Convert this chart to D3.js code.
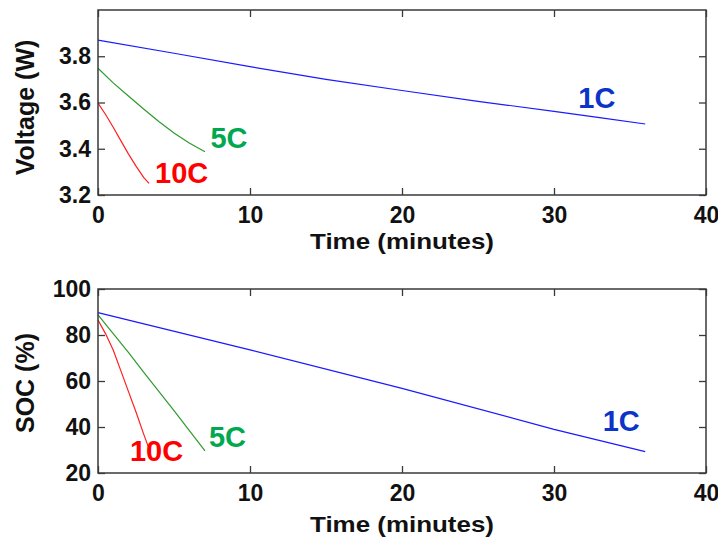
<!DOCTYPE html>
<html>
<head>
<meta charset="utf-8">
<script src="https://cdn.jsdelivr.net/npm/d3@7"></script>
<style>
  body { margin: 0; background: #fff; }
  svg text { font-family: "Liberation Sans", Arial, sans-serif; font-weight: bold; }
  .tick text { font-size: 23px; fill: #111; }
</style>
</head>
<body>
<svg id="chart" width="718" height="539"></svg>
<script>
// time axis ticks (minutes)
var timeTicks = [0, 10, 20, 30, 40];

// voltage panel
var voltTicks = [3.2, 3.4, 3.6, 3.8];
var tV1C = [0, 5, 10, 15, 20, 25, 30, 33, 36];
var volt1C = [3.87, 3.813, 3.755, 3.70, 3.652, 3.605, 3.562, 3.535, 3.507];
var tV5C = [0, 1, 2, 3, 4, 5, 6, 7.04];
var volt5C = [3.748, 3.685, 3.628, 3.572, 3.518, 3.468, 3.425, 3.387];
var tV10C = [0, 0.5, 1, 1.5, 2, 2.5, 3, 3.36];
var volt10C = [3.597, 3.548, 3.493, 3.435, 3.378, 3.325, 3.276, 3.25];

// state of charge panel
var socTicks = [20, 40, 60, 80, 100];
var tS1C = [0, 10, 20, 30, 36];
var soc1C = [89.7, 73.5, 56.8, 39.0, 29.3];
var tS5C = [0, 1, 2, 3, 4, 5, 6, 7.04];
var soc5C = [88.7, 80.6, 72.4, 63.9, 55.5, 47.1, 38.5, 29.6];
var tS10C = [0, 0.5, 1, 1.5, 2, 2.5, 3, 3.36];
var soc10C = [86.5, 80.5, 73.5, 64.5, 55.5, 46.5, 37, 30.5];

var rates = ["1C", "5C", "10C"];
var lineColors = {"1C": "#1a1aff", "5C": "#2e9a2e", "10C": "#ff2020"};
var labelColors = {"1C": "#0a35c8", "5C": "#00a84f", "10C": "#ff0000"};

function zip(t, v) { return t.map(function (d, i) { return [d, v[i]]; }); }

var panels = [
  {
    top: 10, bottom: 195, domain: [3.2, 4.0], ticks: voltTicks,
    title: "Voltage (W)", fmt: d3.format(".1f"), titleDy: 5, xTitleOff: 54,
    series: {"1C": zip(tV1C, volt1C), "5C": zip(tV5C, volt5C), "10C": zip(tV10C, volt10C)},
    labels: {"1C": [31.6, 3.575], "5C": [7.4, 3.404], "10C": [3.75, 3.254]}
  },
  {
    top: 289, bottom: 473, domain: [20, 100], ticks: socTicks,
    title: "SOC (%)", fmt: d3.format("d"), titleDy: 2, xTitleOff: 59,
    series: {"1C": zip(tS1C, soc1C), "5C": zip(tS5C, soc5C), "10C": zip(tS10C, soc10C)},
    labels: {"1C": [33.2, 38.2], "5C": [7.3, 31.3], "10C": [2.1, 25.2]}
  }
];

var svg = d3.select("#chart");
var left = 98, right = 706, tk = 7;

var x = d3.scaleLinear().domain([0, 40]).range([left, right]);

panels.forEach(function (p) {
  var y = d3.scaleLinear().domain(p.domain).range([p.bottom, p.top]);
  var g = svg.append("g");

  var line = d3.line()
    .x(function (d) { return x(d[0]); })
    .y(function (d) { return y(d[1]); });

  rates.forEach(function (r) {
    g.append("path")
      .datum(p.series[r])
      .attr("fill", "none")
      .attr("stroke", lineColors[r])
      .attr("stroke-width", 1.2)
      .attr("d", line);
  });

  // frame
  g.append("rect")
    .attr("x", left).attr("y", p.top)
    .attr("width", right - left).attr("height", p.bottom - p.top)
    .attr("fill", "none").attr("stroke", "#3a3a3a").attr("stroke-width", 1.5);

  var ax = [
    g.append("g").attr("transform", "translate(0," + p.bottom + ")")
      .call(d3.axisBottom(x).tickValues(timeTicks).tickSize(-tk).tickPadding(12)),
    g.append("g").attr("transform", "translate(0," + p.top + ")")
      .call(d3.axisTop(x).tickValues(timeTicks).tickSize(-tk).tickFormat("")),
    g.append("g").attr("transform", "translate(" + left + ",0)")
      .call(d3.axisLeft(y).tickValues(p.ticks).tickSize(-tk).tickPadding(7).tickFormat(p.fmt)),
    g.append("g").attr("transform", "translate(" + right + ",0)")
      .call(d3.axisRight(y).tickValues(p.ticks).tickSize(-tk).tickFormat(""))
  ];
  ax.forEach(function (a) {
    a.select(".domain").remove();
    a.selectAll(".tick line").attr("stroke", "#3a3a3a").attr("stroke-width", 1.3);
  });

  // x title
  g.append("text")
    .attr("x", (left + right) / 2)
    .attr("y", p.bottom + p.xTitleOff)
    .attr("text-anchor", "middle")
    .attr("font-size", 22)
    .attr("textLength", 184)
    .attr("lengthAdjust", "spacingAndGlyphs")
    .attr("fill", "#111")
    .text("Time (minutes)");

  // y title
  g.append("text")
    .attr("transform", "translate(34," + ((p.top + p.bottom) / 2 + p.titleDy) + ") rotate(-90)")
    .attr("text-anchor", "middle")
    .attr("font-size", 25)
    .attr("fill", "#111")
    .text(p.title);

  // rate labels
  rates.forEach(function (r) {
    g.append("text")
      .attr("x", x(p.labels[r][0]))
      .attr("y", y(p.labels[r][1]))
      .attr("font-size", 29)
      .attr("fill", labelColors[r])
      .text(r);
  });
});
</script>
</body>
</html>
